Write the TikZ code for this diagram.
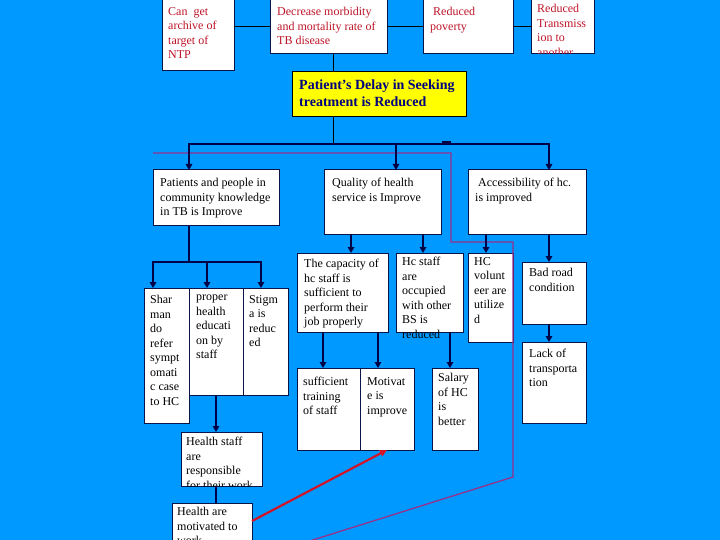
\documentclass[tikz,border=0pt]{standalone}
\usepackage{fontspec}
\setmainfont{Liberation Serif}
\usetikzlibrary{arrows.meta}
\definecolor{bgc}{RGB}{0,153,255}
\definecolor{navyc}{RGB}{0,0,70}
\definecolor{boxc}{RGB}{10,20,70}
\definecolor{dred}{RGB}{190,20,40}
\definecolor{yelc}{RGB}{255,255,0}
\definecolor{ytxt}{RGB}{0,0,128}
\definecolor{purpc}{RGB}{150,50,140}
\definecolor{redc}{RGB}{210,20,40}
\begin{document}
\begin{tikzpicture}[x=1pt,y=-1pt,
  box/.style={draw=boxc, fill=white, line width=1pt, inner sep=0pt, outer sep=0pt, anchor=north west},
  txt/.style={inner sep=0pt, anchor=north west, align=left, font=\fontsize{12}{14.5}\selectfont, text=black},
  rtxt/.style={txt, text=dred},
  conn/.style={draw=navyc, line width=2.2pt, -{Triangle[length=6pt,width=6.5pt]}},
  plainl/.style={draw=navyc, line width=2.2pt},
  thinl/.style={draw=black, line width=1pt},
  purpline/.style={draw=purpc, line width=1.3pt},
  redarr/.style={draw=redc, line width=2.2pt, -{Triangle[length=7pt,width=6.5pt]}}]
\clip (0,0) rectangle (720,540);
\fill[bgc] (0,0) rectangle (720,540);

% ---------- boxes ----------
\node[box, minimum width=72pt, minimum height=71pt] (can) at (162,0) {};
\node[box, minimum width=117pt, minimum height=54pt] (dec) at (270,0) {};
\node[box, minimum width=90pt, minimum height=54pt] (pov) at (423,0) {};
\node[box, minimum width=63pt, minimum height=54pt] (tra) at (531,0) {};
\node[box, fill=yelc, draw=black, minimum width=174pt, minimum height=45pt] (yel) at (292,72) {};
\node[box, minimum width=126pt, minimum height=56pt] (pat) at (153,170) {};
\node[box, minimum width=117pt, minimum height=64pt] (qua) at (324,170) {};
\node[box, minimum width=118pt, minimum height=64pt] (acc) at (468,170) {};
\node[box, minimum width=45pt, minimum height=135pt] (sha) at (144,288) {};
\node[box, minimum width=54pt, minimum height=107pt] (pro) at (189,288) {};
\node[box, minimum width=45pt, minimum height=107pt] (sti) at (243,288) {};
\node[box, minimum width=91pt, minimum height=79pt] (cap) at (297,253) {};
\node[box, minimum width=67pt, minimum height=79pt] (hcs) at (396,253) {};
\node[box, minimum width=45pt, minimum height=89pt] (vol) at (468,253) {};
\node[box, minimum width=64pt, minimum height=62pt] (bad) at (522,262) {};
\node[box, minimum width=64pt, minimum height=81pt] (lac) at (522,342) {};
\node[box, minimum width=63pt, minimum height=82pt] (suf) at (297,368) {};
\node[box, minimum width=54pt, minimum height=82pt] (mot) at (360,368) {};
\node[box, minimum width=46pt, minimum height=82pt] (sal) at (432,368) {};
\node[box, minimum width=81pt, minimum height=54pt] (hst) at (181,432) {};
\node[box, minimum width=80pt, minimum height=50pt] (hmo) at (172,503) {};

% ---------- texts ----------
\node[rtxt] (tcan) at ([shift={(6pt,-7pt)}]can.north west) {Can\ \ get\\archive of\\target of\\NTP};
\node[rtxt] (tdec) at ([shift={(7pt,-7pt)}]dec.north west) {Decrease morbidity\\and mortality rate of\\TB disease};
\node[rtxt] (tpov) at ([shift={(7pt,-7pt)}]pov.north west) {\hspace{3pt}Reduced\\poverty};
\begin{scope}
\clip (tra.north west) rectangle (tra.south east);
\node[rtxt] (ttra) at ([shift={(6pt,-4pt)}]tra.north west) {Reduced\\Transmiss\\ion to\\another};
\end{scope}
\node[txt, text=ytxt, font=\fontsize{14}{17}\selectfont\bfseries] (tyel) at ([shift={(7pt,-8pt)}]yel.north west) {Patient’s Delay in Seeking\\treatment is Reduced};
\node[txt] (tpat) at ([shift={(7pt,-8pt)}]pat.north west) {Patients and people in\\community knowledge\\in TB is Improve};
\node[txt] (tqua) at ([shift={(8pt,-8pt)}]qua.north west) {Quality of health\\service is Improve};
\node[txt] (tacc) at ([shift={(7pt,-8pt)}]acc.north west) {\hspace{3pt}Accessibility of hc.\\is improved};
\node[txt] (tsha) at ([shift={(6pt,-7pt)}]sha.north west) {Shar\\man\\do\\refer\\sympt\\omati\\c case\\to HC};
\node[txt] (tpro) at ([shift={(7pt,-7pt)}]pro.north west) {proper\\health\\educati\\on by\\staff};
\node[txt] (tsti) at ([shift={(6pt,-7pt)}]sti.north west) {Stigm\\a is\\reduc\\ed};
\node[txt] (tcap) at ([shift={(7pt,-6pt)}]cap.north west) {The capacity of\\hc staff is\\sufficient to\\perform their\\job properly};
\node[txt] (thcs) at ([shift={(6pt,-4pt)}]hcs.north west) {Hc staff\\are\\occupied\\with other\\BS is\\reduced};
\node[txt] (tvol) at ([shift={(6pt,-4pt)}]vol.north west) {HC\\volunt\\eer are\\utilize\\d};
\node[txt] (tbad) at ([shift={(7pt,-6pt)}]bad.north west) {Bad road\\condition};
\node[txt] (tlac) at ([shift={(7pt,-7pt)}]lac.north west) {Lack of\\transporta\\tion};
\node[txt] (tsuf) at ([shift={(6pt,-9pt)}]suf.north west) {sufficient\\training\\of staff};
\node[txt] (tmot) at ([shift={(7pt,-9pt)}]mot.north west) {Motivat\\e is\\improve};
\node[txt] (tsal) at ([shift={(6pt,-5pt)}]sal.north west) {Salary\\of HC\\is\\better};
\begin{scope}
\clip (hst.north west) rectangle (hst.south east);
\node[txt] (thst) at ([shift={(5pt,-5pt)}]hst.north west) {Health staff\\are\\responsible\\for their work};
\end{scope}
\node[txt] (thmo) at ([shift={(5pt,-4pt)}]hmo.north west) {Health are\\motivated to\\work};

% ---------- top connectors ----------
\draw[thinl] (can.east |- dec.west) -- (dec.west);
\draw[thinl] (dec.east) -- (pov.west);
\draw[thinl] (pov.east) -- (tra.west |- pov.east);
\coordinate (vx) at (333,0);
\coordinate (busM) at (333,144);
\coordinate (busL) at (189,144);
\coordinate (busQ) at (396,144);
\coordinate (busR) at (549,144);
\draw[thinl] (vx |- dec.south) -- (vx |- yel.north);
\draw[thinl] (vx |- yel.south) -- (busM);

% purple line
\draw[purpline] (153,153) -- (451,153) -- (451,242) -- (513,242) -- (513,477) -- (300,544);

\draw[plainl, line cap=rect] (busL) -- (busR);
\draw[plainl] (442,142.5) -- (451,142.5);
\draw[conn] (busL) -- (busL |- pat.north);
\draw[conn] (busQ) -- (busQ |- qua.north);
\draw[conn] (busR) -- (busR |- acc.north);

% Patients branch
\coordinate (p1) at (189,262);
\coordinate (pL) at (153,262);
\coordinate (pM) at (207,262);
\coordinate (pR) at (261,262);
\draw[plainl] (p1 |- pat.south) -- (p1);
\draw[plainl, line cap=rect] (pL) -- (pR);
\draw[conn] (pL) -- (pL |- sha.north);
\draw[conn] (pM) -- (pM |- pro.north);
\draw[conn] (pR) -- (pR |- sti.north);
\draw[conn] (pro.south) -- (pro.south |- hst.north);
\draw[plainl] (pro.south |- hst.south) -- (pro.south |- hmo.north);

% Quality branch
\coordinate (q1) at (351,0);
\coordinate (q2) at (423,0);
\draw[conn] (q1 |- qua.south) -- (q1 |- cap.north);
\draw[conn] (q2 |- qua.south) -- (q2 |- hcs.north);
\coordinate (c1) at (323,0);
\coordinate (c2) at (378,0);
\draw[conn] (c1 |- cap.south) -- (c1 |- suf.north);
\draw[conn] (c2 |- cap.south) -- (c2 |- mot.north);
\coordinate (h1) at (450,0);
\draw[conn] (h1 |- hcs.south) -- (h1 |- sal.north);

% Accessibility branch
\coordinate (a1) at (486,0);
\coordinate (a2) at (549,0);
\draw[conn] (a1 |- acc.south) -- (a1 |- vol.north);
\draw[conn] (a2 |- acc.south) -- (a2 |- bad.north);
\draw[conn] (a2 |- bad.south) -- (a2 |- lac.north);

% red arrow
\draw[redarr] ([yshift=7pt]hmo.east) -- (mot.south);
\end{tikzpicture}
\end{document}
